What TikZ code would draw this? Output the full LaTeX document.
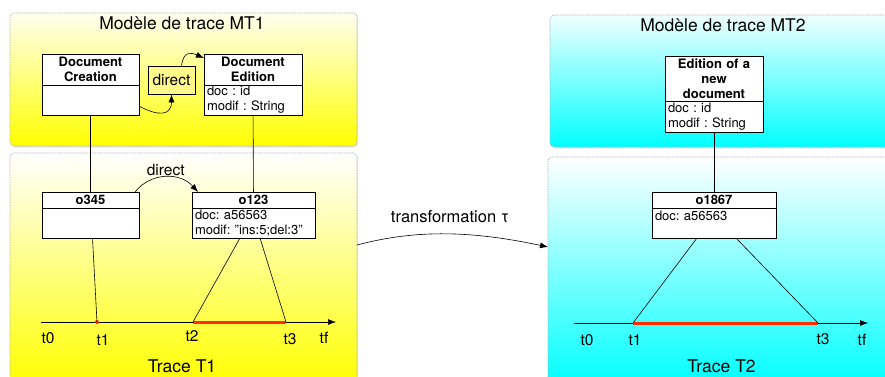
\documentclass[tikz,border=0pt]{standalone}
\usepackage{fontspec}
\setmainfont{TeX Gyre Heros}
\frenchspacing
\usetikzlibrary{calc, shapes, shadows, arrows.meta, positioning}
\definecolor{tracered}{RGB}{255,45,0}
\tikzset{
    panelnode/.style = {draw=gray!60, line width=0.6pt, dash pattern=on 1.5pt off 1pt, rounded corners=4pt, minimum width=#1,
      inner sep=0pt, outer sep=0pt, drop shadow={opacity=0.2, shadow xshift=1pt, shadow yshift=-1.5pt}},
    titlenode/.style = {draw=none, fill=none, inner sep=0pt, font=\fontsize{17.5}{20}\selectfont},
    headnode/.style = {draw, fill=white, line width=0.8pt, inner xsep=1pt, inner ysep=0pt, outer sep=0pt,
      text width=#1, align=center, font=\fontsize{13}{15}\selectfont\bfseries},
    bodynode/.style = {draw, fill=white, line width=0.8pt, inner xsep=3pt, inner ysep=0pt, outer sep=0pt,
      text width=#1, align=left, minimum height=30pt, font=\fontsize{13}{15}\selectfont},
    textnode/.style = {draw=none, fill=none, inner sep=0pt, font=\fontsize{15.5}{18}\selectfont},
    timenode/.style = {draw=none, fill=none, inner sep=0pt, font=\fontsize{15.5}{18}\selectfont},
    connect/.style = {black, line width=0.6pt, -{Latex[length=8pt,width=6pt]}},
    linkline/.style = {black, line width=0.6pt},
    intervalline/.style = {tracered, line width=3pt}
}

\begin{document}
\begin{tikzpicture}[x=1pt, y=-1pt]
    \useasboundingbox (0,0) rectangle (885,376);
    \clip (0,0) rectangle (885,376);

    % panels
    \node [name=mt1, panelnode=347pt, minimum height=133pt, top color=yellow!6, bottom color=yellow] at (183.5,79.5) {};
    \node [name=tr1, panelnode=347pt, minimum height=232pt, top color=white, bottom color=yellow] at (183.5,269) {};
    \node [name=mt2, panelnode=360pt, minimum height=132pt, top color=cyan!6, bottom color=cyan] at (730,81) {};
    \node [name=tr2, panelnode=362pt, minimum height=228pt, top color=white, bottom color=cyan] at (729,271) {};

    \node [name=mt1title, titlenode] at (182,23) {Modèle de trace MT1};
    \node [name=tr1title, titlenode] at (182,366) {Trace T1};
    \node [name=mt2title, titlenode] at (723,25) {Modèle de trace MT2};
    \node [name=tr2title, titlenode] at (721.5,366) {Trace T2};

    % model MT1
    \node [name=dc, headnode=95pt, minimum height=31pt] at (90.5,69.5) {Document\\Creation};
    \node [name=dcb, bodynode=91pt, below=0pt of dc] {};
    \node [name=de, headnode=96pt, minimum height=31pt] at (253,69.5) {Document\\Edition};
    \node [name=deb, bodynode=92pt, below=0pt of de] {doc : id\\modif : String};
    \node [name=dirbox, textnode, draw, fill=yellow!45, line width=0.8pt, minimum width=47pt, minimum height=28pt] at (171.5,80) {direct};

    \draw [connect] ($(dcb.east)+(0,6)$) .. controls +(18,10) and +(0,22) .. (dirbox.south);
    \draw [connect] ($(dirbox.north)+(10,0)$) .. controls +(2,-14) and +(-14,-6) .. ($(de.north west)+(0,4)$);

    % trace T1
    \node [name=o345, headnode=95pt, minimum height=16pt] at (90.5,200) {o345};
    \node [name=o345b, bodynode=91pt, below=0pt of o345] {};
    \node [name=o123, headnode=121pt, minimum height=16pt] at (253.5,200) {o123};
    \node [name=o123b, bodynode=117pt, below=0pt of o123] {doc: a56563\\modif: "ins:5;del:3"};

    \draw [linkline] (dcb) -- (o345);
    \draw [linkline] (deb) -- (o123);
    \draw [connect] ($(o345.north east)+(-4,0)$) .. controls +(16,-20) and +(-18,-20) .. ($(o123.north west)+(6,0)$)
        node [textnode, midway, above=1pt] {direct};

    \coordinate (a1s) at (41,322);
    \coordinate (a1e) at (336,322);
    \coordinate (a1t1) at (97,322);
    \coordinate (a1t2) at (193,322);
    \coordinate (a1t3) at (286,322);
    \draw [connect] (a1s) -- (a1e);
    \draw [intervalline] (a1t2) -- (a1t3);
    \fill [tracered] (a1t1) circle (2pt);
    \draw [linkline] ($(o345b.south)+(2,0)$) -- (a1t1);
    \draw [linkline] ($(o123b.south)+(-13.5,0)$) -- (a1t2);
    \draw [linkline] ($(o123b.south)+(6.5,0)$) -- (a1t3);

    \node [name=l1t0, timenode] at (48,338) {t0};
    \node [name=l1t1, timenode] at (103,340) {t1};
    \node [name=l1t2, timenode] at (192,336) {t2};
    \node [name=l1t3, timenode] at (290,339) {t3};
    \node [name=l1tf, timenode] at (324,338) {tf};

    % model MT2 and trace T2
    \node [name=en, headnode=96pt, minimum height=45pt] at (714,78.5) {Edition of a\\new\\document};
    \node [name=enb, bodynode=92pt, minimum height=31pt, below=0pt of en] {doc : id\\modif : String};
    \node [name=o1867, headnode=122pt, minimum height=16pt] at (714,200) {o1867};
    \node [name=o1867b, bodynode=118pt, below=0pt of o1867] {doc: a56563\\ ~};
    \draw [linkline] (enb) -- (o1867);

    \coordinate (a2s) at (574,323);
    \coordinate (a2e) at (868,323);
    \coordinate (a2t1) at (633,323);
    \coordinate (a2t3) at (818,323);
    \draw [connect] (a2s) -- (a2e);
    \draw [intervalline] (a2t1) -- (a2t3);
    \draw [linkline] ($(o1867b.south)+(-17,0)$) -- (a2t1);
    \draw [linkline] ($(o1867b.south)+(22,0)$) -- (a2t3);

    \node [name=l2t0, timenode] at (587,340) {t0};
    \node [name=l2t1, timenode] at (635,340) {t1};
    \node [name=l2t3, timenode] at (823,339) {t3};
    \node [name=l2tf, timenode] at (862,340) {tf};

    % transformation
    \draw [connect] ($(tr1.north east)+(0,92)$) .. controls +(60,-16) and +(-75,-16) .. ($(tr2.north west)+(0,90)$);
    \node [name=trlabel, textnode, font=\fontsize{16.5}{19}\selectfont] at (450,217) {transformation τ};
\end{tikzpicture}
\end{document}
